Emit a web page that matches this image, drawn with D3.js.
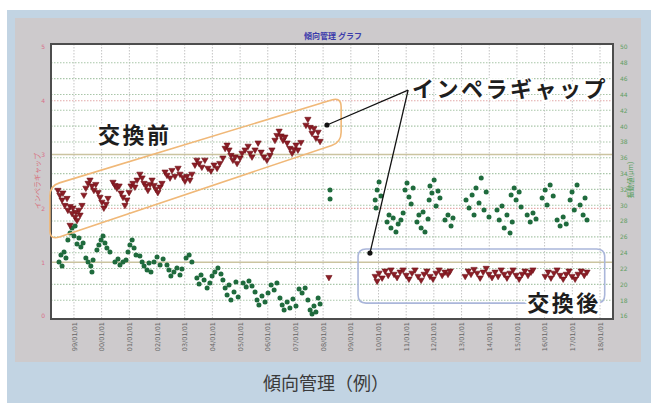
<!DOCTYPE html>
<html>
<head>
<meta charset="utf-8">
<script src="https://cdn.jsdelivr.net/npm/d3@7"></script>
<style>
  body { margin: 0; background: #fff; }
  svg { display: block; }
</style>
</head>
<body>
<svg id="chart" width="651" height="403"></svg>
<script>
// ---- data -------------------------------------------------------------
// x values are decimal years; gap values read on the left axis (mm),
// vibration values on the right axis.
const xTickLabels = ["99/01/01","00/01/01","01/01/01","02/01/01","03/01/01","04/01/01","05/01/01",
  "06/01/01","07/01/01","08/01/01","09/01/01","10/01/01","11/01/01","12/01/01","13/01/01",
  "14/01/01","15/01/01","16/01/01","17/01/01","18/01/01"];
const leftTicks = [0, 1, 2, 3, 4, 5];
const rightTicks = [16, 18, 20, 22, 24, 26, 28, 30, 32, 34, 36, 38, 40, 42, 44, 46, 48, 50];
const limitLines = [1, 3];

const gapBefore = [
  [1998.42,2.34],[1998.49,2.25],[1998.57,2.16],[1998.60,2.29],[1998.67,2.06],[1998.75,2.19],[1998.78,1.97],
  [1998.86,2.04],[1998.93,1.91],[1998.96,2.01],[1999.04,1.84],[1999.07,1.93],[1999.11,1.78],[1999.18,1.97],
  [1999.22,1.88],[1999.29,2.06],[1998.86,1.69],
  [1999.36,2.25],[1999.43,2.38],[1999.51,2.47],[1999.58,2.53],[1999.65,2.42],[1999.72,2.34],[1999.79,2.45],
  [1999.87,2.30],[1999.94,2.21],[2000.01,2.12],[2000.08,2.01],[2000.16,2.08],[2000.23,2.19],
  [2000.41,2.49],[2000.48,2.43],[2000.55,2.38],[2000.63,2.42],[2000.70,2.29],[2000.77,2.21],[2000.84,2.06],
  [2000.91,2.16],[2000.99,2.30],[2001.06,2.42],[2001.13,2.47],[2001.20,2.40],[2001.28,2.53],
  [2001.38,2.64],[2001.46,2.57],[2001.53,2.47],[2001.60,2.42],[2001.67,2.34],[2001.75,2.45],[2001.82,2.53],
  [2001.89,2.43],[2001.96,2.36],[2002.03,2.30],[2002.11,2.40],[2002.18,2.47],
  [2002.29,2.68],[2002.36,2.62],[2002.47,2.57],[2002.54,2.71],[2002.65,2.60],[2002.76,2.75],[2002.83,2.64],
  [2002.94,2.58],[2003.01,2.51],[2003.08,2.60],[2003.19,2.53],[2003.26,2.64],
  [2003.37,2.81],[2003.44,2.90],[2003.52,2.84],[2003.62,2.77],[2003.73,2.90],[2003.84,2.75],[2003.95,2.70],
  [2004.06,2.81],[2004.17,2.75],[2004.27,2.84],[2004.38,2.94],
  [2004.46,3.12],[2004.53,3.18],[2004.60,3.09],[2004.67,2.99],[2004.74,2.90],[2004.82,2.96],[2004.89,2.84],
  [2005.00,2.94],[2005.07,3.03],
  [2005.18,3.09],[2005.29,3.16],[2005.36,3.03],[2005.43,2.96],[2005.54,3.09],[2005.65,3.22],[2005.76,3.05],
  [2005.86,2.96],[2005.97,2.90],[2006.08,2.99],[2006.15,3.09],
  [2006.26,3.27],[2006.33,3.36],[2006.41,3.44],[2006.48,3.35],[2006.55,3.27],[2006.62,3.33],[2006.70,3.22],
  [2006.80,3.12],[2006.88,3.03],[2006.95,3.10],[2007.02,3.18],[2007.09,3.09],[2007.20,3.23],
  [2007.38,3.55],[2007.45,3.66],[2007.53,3.51],[2007.60,3.40],[2007.67,3.49],[2007.74,3.31],[2007.82,3.42],
  [2007.89,3.25],
  [2008.21,0.72]
];

const gapAfter = [
  [2009.88,0.74],[2009.95,0.65],[2010.02,0.80],[2010.13,0.71],[2010.24,0.84],[2010.35,0.76],[2010.45,0.86],
  [2010.56,0.78],[2010.67,0.72],[2010.78,0.82],[2010.89,0.86],[2011.00,0.76],[2011.10,0.69],[2011.21,0.80],
  [2011.32,0.86],[2011.43,0.74],[2011.54,0.67],[2011.65,0.78],[2011.75,0.84],[2011.86,0.74],[2011.97,0.69],
  [2012.08,0.80],[2012.19,0.86],[2012.30,0.76],[2012.40,0.82],[2012.51,0.78],[2012.59,0.84],
  [2013.13,0.74],[2013.24,0.84],[2013.34,0.78],[2013.45,0.87],[2013.56,0.80],[2013.67,0.71],[2013.78,0.82],
  [2013.89,0.89],[2013.99,0.78],[2014.10,0.72],[2014.21,0.82],[2014.32,0.74],[2014.43,0.86],[2014.54,0.78],
  [2014.64,0.71],[2014.75,0.80],[2014.86,0.86],[2014.97,0.76],[2015.08,0.69],[2015.19,0.78],[2015.29,0.84],
  [2015.40,0.76],[2015.51,0.82],[2015.58,0.86],
  [2016.02,0.74],[2016.13,0.82],[2016.23,0.71],[2016.34,0.80],[2016.45,0.86],[2016.56,0.76],[2016.67,0.69],
  [2016.78,0.78],[2016.88,0.84],[2016.99,0.74],[2017.10,0.69],[2017.21,0.78],[2017.32,0.84],[2017.43,0.76],
  [2017.53,0.82]
];

const vibBefore = [
  [1998.46,22.83],[1998.53,23.71],[1998.57,22.32],[1998.64,24.09],[1998.71,23.33],
  [1998.78,25.61],[1998.86,26.49],[1998.93,27.12],[1999.00,26.11],[1999.04,27.38],[1999.11,25.10],
  [1999.18,25.86],[1999.25,24.72],[1999.33,25.23],
  [1999.43,23.33],[1999.51,22.83],[1999.61,22.32],[1999.69,23.08],[1999.65,21.56],
  [1999.83,24.34],[1999.90,24.97],[1999.98,25.61],[2000.05,26.11],[2000.12,25.23],[2000.19,24.59],[2000.30,24.09],
  [2000.48,22.83],[2000.59,23.20],[2000.66,22.45],[2000.77,22.83],[2000.88,23.08],
  [2000.95,24.09],[2001.02,24.97],[2001.10,25.61],[2001.17,24.59],[2001.24,23.71],
  [2001.38,23.58],[2001.46,22.83],[2001.53,22.32],[2001.64,21.81],[2001.71,22.70],[2001.78,21.56],
  [2001.89,22.83],[2002.00,23.46],[2002.11,22.45],[2002.22,23.20],
  [2002.36,22.45],[2002.43,21.81],[2002.50,21.06],[2002.61,21.56],[2002.72,22.07],[2002.83,21.18],[2002.90,21.94],
  [2003.05,23.33],[2003.16,23.71],[2003.26,22.83],
  [2003.44,20.80],[2003.52,20.04],[2003.59,21.18],[2003.70,20.55],[2003.81,19.54],[2003.91,20.17],[2003.99,21.06],
  [2004.09,21.56],[2004.20,22.07],[2004.31,21.31],
  [2004.38,20.55],[2004.46,19.54],[2004.53,18.65],[2004.60,19.92],[2004.67,18.02],[2004.78,19.03],[2004.85,20.30],
  [2004.93,18.40],
  [2005.11,20.17],[2005.22,19.67],[2005.32,20.42],[2005.43,19.79],
  [2005.54,19.03],[2005.61,18.02],[2005.68,17.39],[2005.79,18.53],[2005.90,17.77],[2006.01,18.91],
  [2006.12,19.92],[2006.23,19.29],[2006.33,20.17],
  [2006.44,18.28],[2006.52,17.39],[2006.59,16.76],[2006.70,17.77],[2006.80,17.01],[2006.91,18.15],[2007.02,17.26],
  [2007.13,19.41],[2007.24,18.91],[2007.35,19.54],
  [2007.45,18.02],[2007.53,16.76],[2007.60,16.25],[2007.67,17.26],[2007.74,16.51],[2007.82,18.28],[2007.89,17.52],
  [2008.25,31.93],[2008.25,30.79]
];

const vibAfter = [
  [2009.88,30.66],[2009.91,29.65],[2009.95,31.93],[2010.02,32.94],[2010.09,31.17],
  [2010.31,27.88],[2010.38,28.77],[2010.45,27.12],[2010.53,28.39],[2010.63,26.62],[2010.71,27.63],[2010.81,28.13],
  [2010.89,29.02],
  [2010.96,31.93],[2011.03,32.81],[2011.10,31.04],[2011.18,30.16],[2011.25,32.18],
  [2011.39,27.88],[2011.46,28.77],[2011.54,27.12],[2011.61,29.15],[2011.68,26.62],[2011.79,28.26],
  [2011.83,30.66],[2011.86,32.43],[2011.93,31.55],[2012.01,33.19],[2012.08,29.90],[2012.15,31.80],[2012.22,30.92],
  [2012.40,28.13],[2012.51,28.77],[2012.62,27.38],[2012.69,28.39],
  [2013.16,30.66],[2013.27,29.65],[2013.38,31.29],[2013.45,28.77],[2013.52,32.18],[2013.63,30.28],[2013.71,33.44],
  [2013.81,29.40],[2013.89,31.67],[2013.99,28.51],
  [2014.28,29.40],[2014.36,28.13],[2014.46,29.90],[2014.54,27.12],[2014.64,28.77],[2014.75,26.49],[2014.83,27.88],
  [2014.79,31.29],[2014.90,32.18],[2014.97,30.66],[2015.08,31.67],[2015.15,29.78],
  [2015.37,28.77],[2015.48,27.88],[2015.58,29.02],[2015.69,28.26],
  [2015.91,30.92],[2016.02,31.93],[2016.09,30.03],[2016.20,32.56],[2016.31,31.17],
  [2016.45,28.13],[2016.56,27.38],[2016.67,28.51],[2016.78,27.63],
  [2016.92,30.66],[2016.99,31.67],[2017.07,29.40],[2017.17,32.56],[2017.28,30.03],[2017.39,28.77],[2017.46,30.92],
  [2017.53,28.13]
];

// ---- helpers ----------------------------------------------------------
function toDate(yr) {
  const y = Math.floor(yr);
  const start = new Date(y, 0, 1), end = new Date(y + 1, 0, 1);
  return new Date(+start + (yr - y) * (end - start));
}
const parseTick = d3.timeParse("%y/%m/%d");

// ---- layout -----------------------------------------------------------
const W = 651, H = 403;
const plot = { left: 51, top: 44, right: 613, bottom: 319 };
const JP = "'Noto Sans CJK JP', 'Noto Sans', sans-serif";

const svg = d3.select("#chart");

// outer frame, grey panel, caption band
svg.append("rect").attr("x", 7).attr("y", 10).attr("width", W - 7).attr("height", H - 10).attr("fill", "#c2d4e3");
svg.append("rect").attr("x", 15).attr("y", 18).attr("width", 626).attr("height", 344).attr("fill", "#cdcacc");
svg.append("text").attr("x", 326).attr("y", 390).attr("text-anchor", "middle")
  .attr("font-family", JP).attr("font-size", 18).attr("fill", "#3a3a3a").text("傾向管理（例）");

// scales
const x = d3.scaleTime().domain([toDate(1998.17), toDate(2018.47)]).range([plot.left, plot.right]);
const yL = d3.scaleLinear().domain([0, 5]).range([316, 47]);
const yR = d3.scaleLinear().domain([16, 50]).range([316, 47]);
const xTicks = xTickLabels.map(parseTick);

// plot background
svg.append("rect").attr("x", plot.left).attr("y", plot.top)
  .attr("width", plot.right - plot.left).attr("height", plot.bottom - plot.top).attr("fill", "#fff");

// grid
const grid = svg.append("g");
grid.selectAll(".gv").data(xTicks).join("line")
  .attr("x1", d => x(d)).attr("x2", d => x(d)).attr("y1", plot.top).attr("y2", plot.bottom)
  .attr("stroke", "#c4c4c4").attr("stroke-width", 1).attr("stroke-dasharray", "1.5,1.5");
grid.selectAll(".gr").data(rightTicks.slice(1, -1)).join("line")
  .attr("x1", plot.left).attr("x2", plot.right).attr("y1", d => yR(d)).attr("y2", d => yR(d))
  .attr("stroke", "#a9c6a9").attr("stroke-width", 1.1).attr("stroke-dasharray", "1.5,1.5");
grid.selectAll(".gl").data(leftTicks.filter(v => v > 0 && v < 5 && !limitLines.includes(v))).join("line")
  .attr("x1", plot.left).attr("x2", plot.right).attr("y1", d => yL(d)).attr("y2", d => yL(d))
  .attr("stroke", "#e2a8a8").attr("stroke-width", 1.1).attr("stroke-dasharray", "1.5,1.5");
grid.selectAll(".lim").data(limitLines).join("line")
  .attr("x1", plot.left).attr("x2", plot.right).attr("y1", d => yL(d)).attr("y2", d => yL(d))
  .attr("stroke", "#cbc4a0").attr("stroke-width", 1.5);

// plot border
svg.append("rect").attr("x", plot.left).attr("y", plot.top)
  .attr("width", plot.right - plot.left).attr("height", plot.bottom - plot.top)
  .attr("fill", "none").attr("stroke", "#4d4d4d").attr("stroke-width", 2);

// axes
const axL = svg.append("g").attr("transform", `translate(${plot.left - 3},0)`)
  .call(d3.axisLeft(yL).tickValues(leftTicks).tickSize(0).tickFormat(d3.format("d")));
axL.select(".domain").remove();
axL.selectAll("text").attr("fill", "#d8708a").attr("font-size", 6).attr("font-family", "DejaVu Sans");

const axR = svg.append("g").attr("transform", `translate(${plot.right + 4},0)`)
  .call(d3.axisRight(yR).tickValues(rightTicks).tickSize(0).tickFormat(d3.format("d")));
axR.select(".domain").remove();
axR.selectAll("text").attr("fill", "#5f9e62").attr("font-size", 6).attr("font-family", "DejaVu Sans");

const axB = svg.append("g").attr("transform", `translate(0,${plot.bottom + 3})`)
  .call(d3.axisBottom(x).tickValues(xTicks).tickSize(0).tickFormat((d, i) => xTickLabels[i]));
axB.select(".domain").remove();
axB.selectAll("text")
  .attr("font-size", 6.5).attr("font-family", "DejaVu Sans").attr("fill", "#666")
  .attr("text-anchor", "end").attr("dy", "0.32em").attr("dx", 0).attr("y", 0)
  .attr("transform", "rotate(-90)");

// axis titles and chart title
svg.append("text").attr("transform", "translate(40,181) rotate(-90)").attr("text-anchor", "middle")
  .attr("font-family", JP).attr("font-size", 7).attr("fill", "#d86a78").text("インペラギャップ");
svg.append("text").attr("transform", "translate(633,180) rotate(-90)").attr("text-anchor", "middle")
  .attr("font-family", JP).attr("font-size", 7).attr("fill", "#4f9a55").text("振動値(μm)");
svg.append("text").attr("x", 333).attr("y", 39).attr("text-anchor", "middle")
  .attr("font-family", JP).attr("font-size", 8).attr("font-weight", "bold").attr("fill", "#3b3bab")
  .text("傾向管理 グラフ");

// markers
const tri = d3.symbol().type(d3.symbolTriangle).size(17);
const pts = svg.append("g");
function redSeries(data) {
  pts.append("g").selectAll("path").data(data).join("path")
    .attr("d", tri)
    .attr("transform", d => `translate(${x(toDate(d[0]))},${yL(d[1])}) rotate(180)`)
    .attr("fill", "#8b1d26").attr("stroke", "#6e1218").attr("stroke-width", 0.6);
}
function greenSeries(data) {
  pts.append("g").selectAll("circle").data(data).join("circle")
    .attr("cx", d => x(toDate(d[0]))).attr("cy", d => yR(d[1])).attr("r", 2.5)
    .attr("fill", "#1f6b3d");
}
greenSeries(vibBefore);
greenSeries(vibAfter);
redSeries(gapBefore);
redSeries(gapAfter);

// ---- annotations ------------------------------------------------------
function roundedPath(corners, r) {
  const p = corners.map(c => [x(toDate(c[0])), yL(c[1])]);
  const n = p.length;
  let d = "";
  for (let i = 0; i < n; i++) {
    const prev = p[(i - 1 + n) % n], cur = p[i], next = p[(i + 1) % n];
    const d1 = Math.hypot(prev[0] - cur[0], prev[1] - cur[1]);
    const d2 = Math.hypot(next[0] - cur[0], next[1] - cur[1]);
    const a = [cur[0] + (prev[0] - cur[0]) * r / d1, cur[1] + (prev[1] - cur[1]) * r / d1];
    const b = [cur[0] + (next[0] - cur[0]) * r / d2, cur[1] + (next[1] - cur[1]) * r / d2];
    d += (i === 0 ? "M" : "L") + a[0] + "," + a[1] + "Q" + cur[0] + "," + cur[1] + " " + b[0] + "," + b[1];
  }
  return d + "Z";
}

// box around the readings before replacement
const beforeBox = [[1998.13, 2.42], [2008.65, 4.07], [2008.65, 3.23], [1998.13, 1.41]];
svg.append("path").attr("d", roundedPath(beforeBox, 10))
  .attr("fill", "none").attr("stroke", "#f0b878").attr("stroke-width", 1.6);

// box around the readings after replacement
const afterBox = [[2009.26, 1.245], [2018.17, 1.245], [2018.17, 0.24], [2009.26, 0.24]];
svg.append("path").attr("d", roundedPath(afterBox, 8))
  .attr("fill", "none").attr("stroke", "#aab6da").attr("stroke-width", 1.6);

// leader lines for the gap label
const leaderFrom = [2011.07, 4.20];
const leaderTo = [[2008.14, 3.55], [2009.69, 1.17]];
svg.append("g").selectAll("line").data(leaderTo).join("line")
  .attr("x1", x(toDate(leaderFrom[0]))).attr("y1", yL(leaderFrom[1]))
  .attr("x2", d => x(toDate(d[0]))).attr("y2", d => yL(d[1]))
  .attr("stroke", "#111").attr("stroke-width", 1.3);
svg.append("g").selectAll("circle").data(leaderTo).join("circle")
  .attr("cx", d => x(toDate(d[0]))).attr("cy", d => yL(d[1])).attr("r", 2.6).attr("fill", "#111");

// callout labels
const callouts = [
  { text: "インペラギャップ", at: [2011.21, 4.07] },
  { text: "交換前", at: [1999.87, 3.22] },
  { text: "交換後", at: [2015.37, 0.09] }
];
svg.append("g").selectAll("text").data(callouts).join("text")
  .attr("x", d => x(toDate(d.at[0]))).attr("y", d => yL(d.at[1]))
  .attr("font-family", JP).attr("font-size", 22).attr("font-weight", "bold")
  .attr("letter-spacing", 2.5).attr("fill", "#1e1e1e")
  .attr("stroke", "#fff").attr("stroke-width", 4).attr("paint-order", "stroke")
  .text(d => d.text);
</script>
</body>
</html>
